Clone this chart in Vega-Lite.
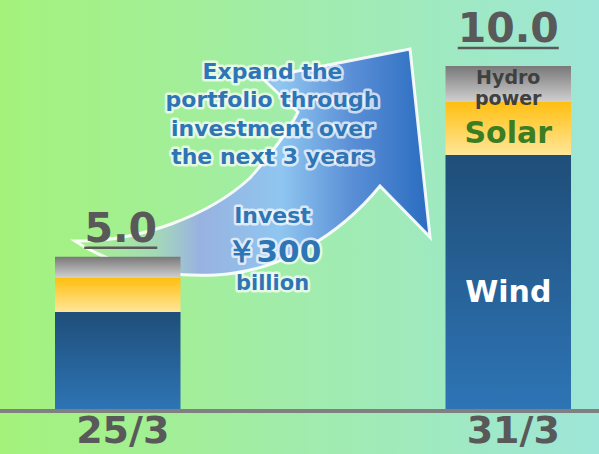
{
"$schema":"https://vega.github.io/schema/vega-lite/v6.json",
"width":599,"height":454,"padding":0,"autosize":{"type":"none"},
"background":"#a1ebab",
"config":{"view":{"stroke":null,"fill":{"gradient":"linear","x1":0,"y1":0,"x2":1,"y2":0,"stops":[{"offset":0,"color":"#a4f27b"},{"offset":0.5,"color":"#a1ecac"},{"offset":1,"color":"#9ee6d8"}]}},"font":"DejaVu Sans"},
"datasets":{
 "cap":[
  {"period":"25/3","seg":"Wind","v":2.87,"ord":1},
  {"period":"25/3","seg":"Solar","v":0.99,"ord":2},
  {"period":"25/3","seg":"Hydro power","v":0.61,"ord":3},
  {"period":"31/3","seg":"Wind","v":7.42,"ord":1},
  {"period":"31/3","seg":"Solar","v":1.54,"ord":2},
  {"period":"31/3","seg":"Hydro power","v":1.04,"ord":3}
 ],
 "totals":[{"period":"25/3","label":"5.0"},{"period":"31/3","label":"10.0"}]
},
"layer":[
 {"data":{"values":[{"anchor":"tail"}]},
  "mark":{"type":"point","shape":"M-42.75 -170 C22.25 -169 92.25 -196 132.25 -233 C152.25 -256 170.25 -278 180.25 -299 L144.25 -333 L292.25 -362 L312.25 -174 L262.25 -225 C222.25 -176 162.25 -139 97.25 -136 C32.25 -133 -17.75 -153 -42.75 -170 Z","size":4,"filled":true,"opacity":1,
   "fill":{"gradient":"linear","x1":0,"y1":0,"x2":1,"y2":0,"stops":[{"offset":0,"color":"rgba(190,210,235,0)"},{"offset":0.22,"color":"rgba(165,188,226,0.4)"},{"offset":0.35,"color":"#98b2e0"},{"offset":0.58,"color":"#8fc6f0"},{"offset":0.78,"color":"#5a8fd6"},{"offset":1,"color":"#2a6cc0"}]},
   "stroke":"#ffffff","strokeWidth":3,"strokeOpacity":0.9},
  "encoding":{"x":{"datum":"25/3","type":"nominal","scale":{"domain":["25/3","31/3"],"paddingInner":0.6786,"paddingOuter":0.10625,"align":0.6627},"axis":null},
   "y":{"datum":0,"type":"quantitative","scale":{"domain":[-1.246,11.913],"nice":false,"zero":false},"axis":null}}},
 {"data":{"name":"cap"},
  "transform":[{"stack":"v","groupby":["period"],"sort":[{"field":"ord","order":"ascending"}],"as":["y0","y1"]},{"filter":"datum.seg==='Wind'"}],
  "mark":{"type":"bar","fill":{"gradient":"linear","x1":0,"y1":0,"x2":0,"y2":1,"stops":[{"offset":0,"color":"#1f4e79"},{"offset":1,"color":"#2e75b6"}]}},
  "encoding":{"x":{"field":"period","type":"nominal","scale":{"domain":["25/3","31/3"],"paddingInner":0.6786,"paddingOuter":0.10625,"align":0.6627},"axis":null},
   "y":{"field":"y0","type":"quantitative","scale":{"domain":[-1.246,11.913],"nice":false,"zero":false},"axis":null},"y2":{"field":"y1"}}},
 {"data":{"name":"cap"},
  "transform":[{"stack":"v","groupby":["period"],"sort":[{"field":"ord","order":"ascending"}],"as":["y0","y1"]},{"filter":"datum.seg==='Solar'"}],
  "mark":{"type":"bar","fill":{"gradient":"linear","x1":0,"y1":0,"x2":0,"y2":1,"stops":[{"offset":0,"color":"#ffbf10"},{"offset":1,"color":"#ffe699"}]}},
  "encoding":{"x":{"field":"period","type":"nominal","scale":{"domain":["25/3","31/3"],"paddingInner":0.6786,"paddingOuter":0.10625,"align":0.6627},"axis":null},
   "y":{"field":"y0","type":"quantitative","scale":{"domain":[-1.246,11.913],"nice":false,"zero":false},"axis":null},"y2":{"field":"y1"}}},
 {"data":{"name":"cap"},
  "transform":[{"stack":"v","groupby":["period"],"sort":[{"field":"ord","order":"ascending"}],"as":["y0","y1"]},{"filter":"datum.seg==='Hydro power'"}],
  "mark":{"type":"bar","fill":{"gradient":"linear","x1":0,"y1":0,"x2":0,"y2":1,"stops":[{"offset":0,"color":"#787878"},{"offset":1,"color":"#d0d0d0"}]}},
  "encoding":{"x":{"field":"period","type":"nominal","scale":{"domain":["25/3","31/3"],"paddingInner":0.6786,"paddingOuter":0.10625,"align":0.6627},"axis":null},
   "y":{"field":"y0","type":"quantitative","scale":{"domain":[-1.246,11.913],"nice":false,"zero":false},"axis":null},"y2":{"field":"y1"}}},
 {"data":{"values":[{"base":0}]},
  "mark":{"type":"rule","color":"#808080","strokeWidth":4},
  "encoding":{"y":{"field":"base","type":"quantitative","scale":{"domain":[-1.246,11.913],"nice":false,"zero":false},"axis":null}}},
 {"data":{"values":[{"t":"Expand the\nportfolio through\ninvestment over\nthe next 3 years"}]},
  "mark":{"type":"text","fontWeight":"bold","fontSize":22,"lineBreak":"\n","lineHeight":28.3,"baseline":"alphabetic","align":"center","color":"#ffffff","stroke":"#ffffff","strokeWidth":5,"strokeOpacity":0.7,"strokeJoin":"round"},
  "encoding":{"x":{"datum":"25/3","type":"nominal","bandPosition":1.733,"scale":{"domain":["25/3","31/3"],"paddingInner":0.6786,"paddingOuter":0.10625,"align":0.6627},"axis":null},
   "y":{"datum":9.623,"type":"quantitative","scale":{"domain":[-1.246,11.913],"nice":false,"zero":false},"axis":null},"text":{"field":"t"}}},
 {"data":{"values":[{"t":"Expand the\nportfolio through\ninvestment over\nthe next 3 years"}]},
  "mark":{"type":"text","fontWeight":"bold","fontSize":22,"lineBreak":"\n","lineHeight":28.3,"baseline":"alphabetic","align":"center","color":"#2e75b6"},
  "encoding":{"x":{"datum":"25/3","type":"nominal","bandPosition":1.733,"scale":{"domain":["25/3","31/3"],"paddingInner":0.6786,"paddingOuter":0.10625,"align":0.6627},"axis":null},
   "y":{"datum":9.623,"type":"quantitative","scale":{"domain":[-1.246,11.913],"nice":false,"zero":false},"axis":null},"text":{"field":"t"}}},
 {"data":{"values":[{"t":"Invest"}]},
  "mark":{"type":"text","fontWeight":"bold","fontSize":22,"baseline":"alphabetic","align":"center","color":"#ffffff","stroke":"#ffffff","strokeWidth":5,"strokeOpacity":0.7,"strokeJoin":"round"},
  "encoding":{"x":{"datum":"25/3","type":"nominal","bandPosition":1.733,"scale":{"domain":["25/3","31/3"],"paddingInner":0.6786,"paddingOuter":0.10625,"align":0.6627},"axis":null},
   "y":{"datum":5.449,"type":"quantitative","scale":{"domain":[-1.246,11.913],"nice":false,"zero":false},"axis":null},"text":{"field":"t"}}},
 {"data":{"values":[{"t":"Invest"}]},
  "mark":{"type":"text","fontWeight":"bold","fontSize":22,"baseline":"alphabetic","align":"center","color":"#2e75b6"},
  "encoding":{"x":{"datum":"25/3","type":"nominal","bandPosition":1.733,"scale":{"domain":["25/3","31/3"],"paddingInner":0.6786,"paddingOuter":0.10625,"align":0.6627},"axis":null},
   "y":{"datum":5.449,"type":"quantitative","scale":{"domain":[-1.246,11.913],"nice":false,"zero":false},"axis":null},"text":{"field":"t"}}},
 {"data":{"values":[{"t":"￥300"}]},
  "mark":{"type":"text","fontWeight":"bold","fontSize":31,"baseline":"alphabetic","align":"center","color":"#ffffff","stroke":"#ffffff","strokeWidth":5,"strokeOpacity":0.7,"strokeJoin":"round"},
  "encoding":{"x":{"datum":"25/3","type":"nominal","bandPosition":1.74,"scale":{"domain":["25/3","31/3"],"paddingInner":0.6786,"paddingOuter":0.10625,"align":0.6627},"axis":null},
   "y":{"datum":4.319,"type":"quantitative","scale":{"domain":[-1.246,11.913],"nice":false,"zero":false},"axis":null},"text":{"field":"t"}}},
 {"data":{"values":[{"t":"￥300"}]},
  "mark":{"type":"text","fontWeight":"bold","fontSize":31,"baseline":"alphabetic","align":"center","color":"#2e75b6"},
  "encoding":{"x":{"datum":"25/3","type":"nominal","bandPosition":1.74,"scale":{"domain":["25/3","31/3"],"paddingInner":0.6786,"paddingOuter":0.10625,"align":0.6627},"axis":null},
   "y":{"datum":4.319,"type":"quantitative","scale":{"domain":[-1.246,11.913],"nice":false,"zero":false},"axis":null},"text":{"field":"t"}}},
 {"data":{"values":[{"t":"billion"}]},
  "mark":{"type":"text","fontWeight":"bold","fontSize":21,"baseline":"alphabetic","align":"center","color":"#ffffff","stroke":"#ffffff","strokeWidth":5,"strokeOpacity":0.7,"strokeJoin":"round"},
  "encoding":{"x":{"datum":"25/3","type":"nominal","bandPosition":1.733,"scale":{"domain":["25/3","31/3"],"paddingInner":0.6786,"paddingOuter":0.10625,"align":0.6627},"axis":null},
   "y":{"datum":3.507,"type":"quantitative","scale":{"domain":[-1.246,11.913],"nice":false,"zero":false},"axis":null},"text":{"field":"t"}}},
 {"data":{"values":[{"t":"billion"}]},
  "mark":{"type":"text","fontWeight":"bold","fontSize":21,"baseline":"alphabetic","align":"center","color":"#2e75b6"},
  "encoding":{"x":{"datum":"25/3","type":"nominal","bandPosition":1.733,"scale":{"domain":["25/3","31/3"],"paddingInner":0.6786,"paddingOuter":0.10625,"align":0.6627},"axis":null},
   "y":{"datum":3.507,"type":"quantitative","scale":{"domain":[-1.246,11.913],"nice":false,"zero":false},"axis":null},"text":{"field":"t"}}},
 {"data":{"name":"cap"},
  "transform":[{"joinaggregate":[{"op":"sum","field":"v","as":"top"}],"groupby":["period"]},{"filter":"datum.seg==='Hydro power' && datum.period==='25/3'"},{"lookup":"period","from":{"data":{"name":"totals"},"key":"period","fields":["label"]}}],
  "mark":{"type":"text","fontWeight":"bold","fontSize":41,"baseline":"alphabetic","align":"center","color":"#595959","dy":-15,"dx":3},
  "encoding":{"x":{"field":"period","type":"nominal","scale":{"domain":["25/3","31/3"],"paddingInner":0.6786,"paddingOuter":0.10625,"align":0.6627},"axis":null},
   "y":{"field":"top","type":"quantitative","scale":{"domain":[-1.246,11.913],"nice":false,"zero":false},"axis":null},"text":{"field":"label"}}},
 {"data":{"name":"cap"},
  "transform":[{"joinaggregate":[{"op":"sum","field":"v","as":"top"}],"groupby":["period"]},{"filter":"datum.seg==='Hydro power' && datum.period==='31/3'"},{"lookup":"period","from":{"data":{"name":"totals"},"key":"period","fields":["label"]}}],
  "mark":{"type":"text","fontWeight":"bold","fontSize":41,"baseline":"alphabetic","align":"center","color":"#595959","dy":-24},
  "encoding":{"x":{"field":"period","type":"nominal","scale":{"domain":["25/3","31/3"],"paddingInner":0.6786,"paddingOuter":0.10625,"align":0.6627},"axis":null},
   "y":{"field":"top","type":"quantitative","scale":{"domain":[-1.246,11.913],"nice":false,"zero":false},"axis":null},"text":{"field":"label"}}},
 {"data":{"name":"cap"},
  "transform":[{"joinaggregate":[{"op":"sum","field":"v","as":"top"}],"groupby":["period"]},{"filter":"datum.seg==='Hydro power' && datum.period==='25/3'"}],
  "mark":{"type":"tick","size":73,"thickness":2.5,"xOffset":3,"yOffset":-9,"color":"#595959","opacity":1},
  "encoding":{"x":{"field":"period","type":"nominal","scale":{"domain":["25/3","31/3"],"paddingInner":0.6786,"paddingOuter":0.10625,"align":0.6627},"axis":null},
   "y":{"field":"top","type":"quantitative","scale":{"domain":[-1.246,11.913],"nice":false,"zero":false},"axis":null}}},
 {"data":{"name":"cap"},
  "transform":[{"joinaggregate":[{"op":"sum","field":"v","as":"top"}],"groupby":["period"]},{"filter":"datum.seg==='Hydro power' && datum.period==='31/3'"}],
  "mark":{"type":"tick","size":101,"thickness":2.5,"yOffset":-18,"color":"#595959","opacity":1},
  "encoding":{"x":{"field":"period","type":"nominal","scale":{"domain":["25/3","31/3"],"paddingInner":0.6786,"paddingOuter":0.10625,"align":0.6627},"axis":null},
   "y":{"field":"top","type":"quantitative","scale":{"domain":[-1.246,11.913],"nice":false,"zero":false},"axis":null}}},
 {"data":{"name":"cap"},
  "transform":[{"stack":"v","groupby":["period"],"sort":[{"field":"ord","order":"ascending"}],"as":["y0","y1"]},{"filter":"datum.period==='31/3' && datum.seg==='Wind'"},{"fold":["y0","y1"],"as":["edge","yy"]},{"aggregate":[{"op":"mean","field":"yy","as":"mid"}],"groupby":["period","seg"]}],
  "mark":{"type":"text","fontWeight":"bold","fontSize":30,"baseline":"middle","align":"center","dy":10,"color":"#ffffff"},
  "encoding":{"x":{"field":"period","type":"nominal","scale":{"domain":["25/3","31/3"],"paddingInner":0.6786,"paddingOuter":0.10625,"align":0.6627},"axis":null},
   "y":{"field":"mid","type":"quantitative","scale":{"domain":[-1.246,11.913],"nice":false,"zero":false},"axis":null},
   "text":{"field":"seg"}}},
 {"data":{"name":"cap"},
  "transform":[{"stack":"v","groupby":["period"],"sort":[{"field":"ord","order":"ascending"}],"as":["y0","y1"]},{"filter":"datum.period==='31/3' && datum.seg==='Solar'"},{"fold":["y0","y1"],"as":["edge","yy"]},{"aggregate":[{"op":"mean","field":"yy","as":"mid"}],"groupby":["period","seg"]}],
  "mark":{"type":"text","fontWeight":"bold","fontSize":30,"baseline":"middle","align":"center","dy":6,"color":"#3a7d22"},
  "encoding":{"x":{"field":"period","type":"nominal","scale":{"domain":["25/3","31/3"],"paddingInner":0.6786,"paddingOuter":0.10625,"align":0.6627},"axis":null},
   "y":{"field":"mid","type":"quantitative","scale":{"domain":[-1.246,11.913],"nice":false,"zero":false},"axis":null},
   "text":{"field":"seg"}}},
 {"data":{"name":"cap"},
  "transform":[{"stack":"v","groupby":["period"],"sort":[{"field":"ord","order":"ascending"}],"as":["y0","y1"]},{"filter":"datum.period==='31/3' && datum.seg==='Hydro power'"},{"fold":["y0","y1"],"as":["edge","yy"]},{"aggregate":[{"op":"mean","field":"yy","as":"mid"}],"groupby":["period","seg"]}],
  "mark":{"type":"text","fontWeight":"bold","fontSize":19,"lineBreak":" ","lineHeight":21,"baseline":"middle","align":"center","dy":-6,"color":"#404040"},
  "encoding":{"x":{"field":"period","type":"nominal","scale":{"domain":["25/3","31/3"],"paddingInner":0.6786,"paddingOuter":0.10625,"align":0.6627},"axis":null},
   "y":{"field":"mid","type":"quantitative","scale":{"domain":[-1.246,11.913],"nice":false,"zero":false},"axis":null},
   "text":{"field":"seg"}}},
 {"data":{"name":"totals"},
  "mark":{"type":"text","fontWeight":"bold","fontSize":38,"baseline":"alphabetic","align":"center","color":"#595959","dx":5},
  "encoding":{"x":{"field":"period","type":"nominal","scale":{"domain":["25/3","31/3"],"paddingInner":0.6786,"paddingOuter":0.10625,"align":0.6627},"axis":null},
   "y":{"datum":-0.928,"type":"quantitative","scale":{"domain":[-1.246,11.913],"nice":false,"zero":false},"axis":null},"text":{"field":"period"}}}
]
}
